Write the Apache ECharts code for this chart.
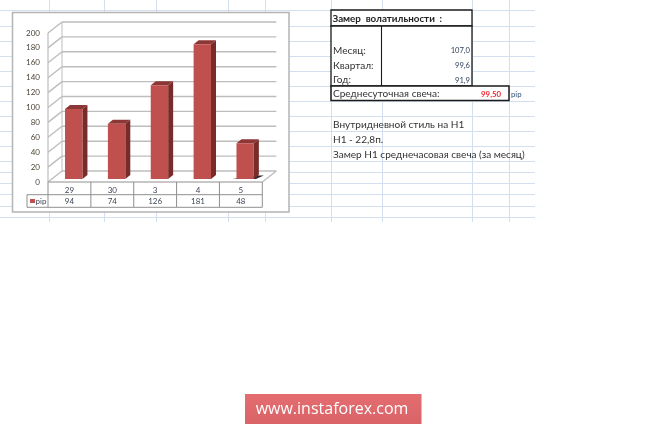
<!DOCTYPE html>
<html><head><meta charset="utf-8">
<style>html,body{margin:0;padding:0;background:#fff}#c{width:665px;height:425px;filter:blur(0.35px)}</style>
<script src="https://cdn.jsdelivr.net/npm/echarts@6/dist/echarts.min.js"></script>
</head><body><div id="c"></div>
<script>
const categories = ['29','30','3','4','5'];
const pipValues = [94,74,126,181,48];
const seriesName = 'pip';
const yTicks = [0,20,40,60,80,100,120,140,160,180,200];
const tableTitle = 'Замер  волатильности  :';
const volLabels = ['Месяц:','Квартал:','Год:'];
const volValues = ['107,0','99,6','91,9'];
const avgLabel = 'Среднесуточная свеча:';
const avgValue = '99,50';
const avgUnit = 'pip';
const notes = ['Внутридневной стиль на Н1','Н1 - 22,8п.','Замер Н1 среднечасовая свеча (за месяц)'];
const banner = 'www.instaforex.com';

const sheetH = [10,26,41,56,71,86,101,116,131,146,161,172,183,194,206,217];
const sheetV = [49,104,156,228,265,331,382,472,509];
const FONT = 'Lato';
const SHEET = '#d3dfee', WALL = '#bdbdbd', CELL = '#8f8f8f';
const g = [];
const line = (x1,y1,x2,y2,stroke,w,z) => g.push({type:'line',z:z,silent:true,shape:{x1,y1,x2,y2},style:{stroke,lineWidth:w}});
const rect = (x,y,width,height,fill,stroke,w,z) => g.push({type:'rect',z:z,silent:true,shape:{x,y,width,height},style:{fill,stroke,lineWidth:w}});
const text = (x,y,t,o={}) => g.push({type:'text',z:6,silent:true,x,y,style:{text:t,font:`${o.weight||'normal'} ${o.size||10.05}px ${o.family||FONT}`,fill:o.fill||'#333',align:o.align||'left',verticalAlign:'middle'}});

sheetH.forEach(y=>line(0,y+.5,535,y+.5,SHEET,1,-5));
sheetV.forEach(x=>line(x+.5,0,x+.5,222,SHEET,1,-5));
rect(12.5,12.5,276.5,199.5,'#fff','#b4b4b4',1.5,-4);

// spreadsheet table
rect(331,10,141,16,'#fff','#1a1a1a',1.3,1);
rect(331,26,141,60,'#fff','#1a1a1a',1.3,1);
line(381.5,26,381.5,86,'#1a1a1a',1.1,2);
rect(331,86,178,14.5,'#fff','#1a1a1a',1.5,2);
text(332.5,19,tableTitle,{weight:'bold',size:9.8,fill:'#222'});
volLabels.forEach((t,i)=>text(333,50.5+i*14.8,t,{fill:'#333'}));
volValues.forEach((t,i)=>text(470,51+i*14.7,t,{align:'right',size:7.6,fill:'#33415c'}));
text(333,94,avgLabel,{fill:'#333'});
text(501,94.5,avgValue,{align:'right',size:7.8,weight:'bold',fill:'#f0282f'});
text(511,94.5,avgUnit,{size:7.8,fill:'#33507c'});
notes.forEach((t,i)=>text(333,124.5+i*14.9,t,{fill:'#333'}));

// banner
g.push({type:'rect',z:5,silent:true,shape:{x:245,y:394,width:176.5,height:30},style:{fill:{type:'linear',x:0,y:0,x2:0,y2:1,colorStops:[{offset:0,color:'#e46d70'},{offset:1,color:'#d96367'}]}}});
text(332,409.5,banner,{align:'center',size:16,fill:'#fff',family:'"Open Sans"'});

const DX=14, DY=-11;
const option = {
  animation:false,
  backgroundColor:'#fff',
  grid:{left:48,top:33,width:214.3,height:149,containLabel:false},
  xAxis:{type:'category',data:categories,axisLine:{show:false},axisTick:{show:false},
    axisLabel:{interval:0,margin:4,fontSize:8,fontFamily:FONT,color:'#3c4656'}},
  yAxis:{type:'value',min:0,max:200,interval:20,splitLine:{show:false},axisLine:{show:false},axisTick:{show:false},
    axisLabel:{margin:8,fontSize:8,fontFamily:FONT,color:'#4d4438'}},
  graphic:g,
  series:[
    { // walls, floor and gridlines
      type:'custom',coordinateSystem:'cartesian2d',z:1,silent:true,clip:false,
      encode:{x:0,y:1},data:yTicks.map(v=>[0,v]),
      renderItem(p,api){
        const v=api.value(1), band=api.size([1,0])[0];
        const y=api.coord([0,v])[1], y0=api.coord([0,0])[1], xl=api.coord([0,v])[0]-band/2, xr=xl+band*categories.length;
        const ls={stroke:WALL,lineWidth:1.4,fill:null};
        const ch=[
          {type:'line',shape:{x1:xl,y1:y,x2:xl+DX,y2:y+DY},style:ls},
          {type:'line',shape:{x1:xl+DX,y1:y+DY,x2:xr+DX,y2:y+DY},style:ls}];
        if(v===0){
          ch.push({type:'line',shape:{x1:xr,y1:y,x2:xr+DX,y2:y+DY},style:ls});
          ch.push({type:'line',shape:{x1:xl,y1:y,x2:xr,y2:y},style:{stroke:CELL,lineWidth:1}});
        }
        if(v===200){
          ch.push({type:'line',shape:{x1:xl,y1:y,x2:xl,y2:y0},style:{stroke:WALL,lineWidth:1.2}});
          ch.push({type:'line',shape:{x1:xl+DX,y1:y+DY,x2:xl+DX,y2:y0+DY},style:{stroke:WALL,lineWidth:1}});
        }
        return {type:'group',children:ch};
      }
    },
    { // data table under the axis
      type:'custom',coordinateSystem:'cartesian2d',z:3,silent:true,clip:false,
      encode:{x:0,y:1},data:categories.map((c,i)=>[i,0,pipValues[i]]),
      renderItem(p,api){
        const i=api.value(0), o=api.coord([i,0]), band=api.size([1,0])[0];
        const l=o[0]-band/2, r=o[0]+band/2;
        const s={stroke:CELL,lineWidth:1};
        const ch=[
          {type:'line',shape:{x1:l,y1:o[1],x2:l,y2:o[1]+25.3},style:s},
          {type:'line',shape:{x1:l,y1:o[1]+12.7,x2:r,y2:o[1]+12.7},style:s},
          {type:'line',shape:{x1:l,y1:o[1]+25.3,x2:r,y2:o[1]+25.3},style:s},
          {type:'text',x:o[0],y:o[1]+19.3,style:{text:String(api.value(2)),font:`8px ${FONT}`,fill:'#3c4656',align:'center',verticalAlign:'middle'}}];
        if(i===categories.length-1) ch.push({type:'line',shape:{x1:r,y1:o[1],x2:r,y2:o[1]+25.3},style:s});
        if(i===0){
          ch.push({type:'line',shape:{x1:l-21,y1:o[1]+12.7,x2:l,y2:o[1]+12.7},style:s});
          ch.push({type:'line',shape:{x1:l-21,y1:o[1]+25.3,x2:l,y2:o[1]+25.3},style:s});
          ch.push({type:'line',shape:{x1:l-21,y1:o[1]+12.7,x2:l-21,y2:o[1]+25.3},style:s});
          ch.push({type:'rect',shape:{x:l-18,y:o[1]+17,width:5,height:4},style:{fill:'#c0504d'}});
          ch.push({type:'text',x:l-12.5,y:o[1]+19.3,style:{text:seriesName,font:`8px ${FONT}`,fill:'#3c4656',align:'left',verticalAlign:'middle'}});
        }
        return {type:'group',children:ch};
      }
    },
    { // 3D bars
      name:seriesName,type:'custom',coordinateSystem:'cartesian2d',z:4,silent:true,clip:false,
      encode:{x:0,y:1},data:pipValues.map((v,i)=>[i,v]),
      renderItem(p,api){
        const i=api.value(0), v=api.value(1);
        const t=api.coord([i,v]), o=api.coord([i,0]);
        const ox=4.3, oy=-3, hw=8.7, sx=5, sy=-4;
        const L=t[0]+ox-hw, R=t[0]+ox+hw, T=t[1]+oy, B=o[1]+oy;
        const ch=[];
        if(i===categories.length-1) ch.push({type:'polygon',shape:{points:[[L-4,B],[R+2,B],[R+10,B-3.5],[R+3,B-3.5]]},style:{fill:'#2a2a2a'}});
        ch.push({type:'polygon',shape:{points:[[R,T],[R+sx,T+sy],[R+sx,B+sy],[R,B]]},style:{fill:'#772c2a'}});
        ch.push({type:'polygon',shape:{points:[[L,T],[L+sx,T+sy],[R+sx,T+sy],[R,T]]},style:{fill:'#8c3735'}});
        ch.push({type:'rect',shape:{x:L,y:T,width:R-L,height:B-T},style:{fill:'#c0504d'}});
        return {type:'group',children:ch};
      }
    }
  ]
};
const chart = echarts.init(document.getElementById('c'),null,{renderer:'canvas',width:665,height:425});
chart.setOption(option);
</script></body></html>
